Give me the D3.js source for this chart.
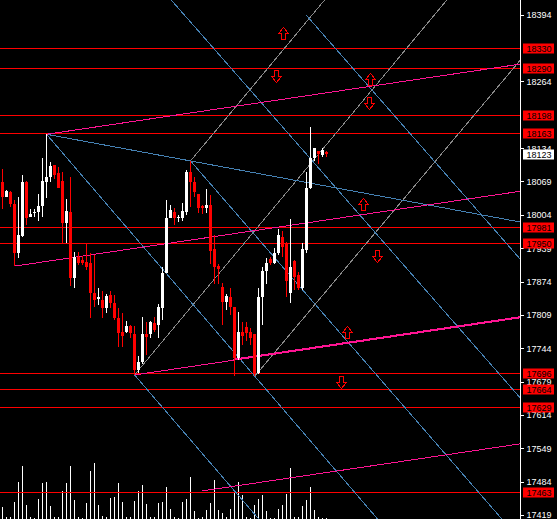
<!DOCTYPE html>
<html><head><meta charset="utf-8">
<script src="https://cdn.jsdelivr.net/npm/d3@7"></script>
<style>html,body{margin:0;padding:0;background:#000;overflow:hidden}</style>
</head><body>
<svg id="c" width="557" height="519"></svg>
<script>
// ---- data ----
const opens  = [18067,18039,18049,18026,17930,17963,18067,18000,18007,18010,18021,18067,18077,18101,18086,18069,17988,18010,17880,17922,17916,17913,17910,17851,17840,17838,17822,17848,17832,17802,17775,17775,17788,17772,17702,17717,17772,17772,17794,17789,17823,17890,17998,18009,17998,17998,18009,18088,18067,18045,18022,18018,18023,17937,17905,17863,17835,17843,17825,17724,17776,17786,17776,17771,17695,17843,17895,17918,17911,17929,17960,17950,17851,17914,17887,17861,17935,18056,18115,18128,18121,18127];
const highs  = [18093,18052,18050,18033,18039,18082,18070,18015,18015,18045,18114,18161,18106,18101,18097,18088,18034,18078,17932,17932,17924,17949,17929,17926,17861,17856,17849,17856,17848,17822,17812,17797,17789,17788,17728,17804,17796,17797,17804,17830,17903,18033,18023,18017,18004,18028,18091,18109,18078,18045,18023,18055,18043,17965,17908,17871,17850,17862,17825,17815,17796,17796,17783,17771,17862,17903,17919,17922,17939,17976,17973,17952,17995,17916,17893,17949,18088,18176,18135,18128,18134,18128];
const lows   = [18015,18038,18019,17904,17919,17961,17984,18000,18000,17992,18000,18036,18068,18073,18056,17950,17950,17865,17861,17906,17906,17897,17803,17825,17828,17803,17812,17822,17799,17747,17747,17773,17763,17692,17695,17713,17731,17763,17776,17763,17799,17890,17997,17984,17990,17991,18004,18020,18039,18008,18005,18007,17909,17869,17869,17789,17819,17809,17689,17721,17750,17758,17750,17689,17693,17789,17870,17906,17909,17926,17922,17843,17833,17858,17858,17858,17929,18054,18108,18104,18117,18116];
const closes = [18039,18051,18025,17930,17965,18068,17997,18005,18010,18021,18070,18078,18099,18082,18057,17989,18012,17881,17922,17911,17910,17903,17851,17838,17843,17822,17846,17832,17802,17773,17768,17788,17773,17702,17717,17772,17765,17796,17780,17825,17890,17998,18013,17998,18000,18011,18088,18067,18049,18018,18017,18023,17934,17903,17898,17835,17846,17825,17724,17776,17767,17773,17763,17693,17844,17895,17910,17910,17930,17965,17942,17875,17903,17883,17861,17937,18056,18115,18134,18122,18130,18123];
const volumes = [1170,200,200,1700,3700,5300,1370,200,100,2000,3600,3700,1300,200,200,2800,3600,5300,1900,200,100,1600,4800,5600,1400,300,200,2100,2200,3600,1700,200,200,1800,2800,3400,1500,200,200,1600,1700,3200,1000,200,100,1700,2000,4200,800,100,200,900,1600,3900,900,600,200,1000,2600,3700,2400,200,100,1400,2000,2400,800,100,100,1000,1400,2500,5100,200,200,1300,1900,3200,900,200,100,100];

// tick labels (18329 and 18199 sit fully under the level boxes, so they are not shown)
const priceTicks = [18394,18264,18134,18069,18004,17939,17874,17809,17744,17679,17614,17549,17484,17419];
const levelLines = [18330,18290,18198,18163,17981,17950,17696,17664,17629,17463];
const lastPrice = 18123;

// rays: [startBar, startPrice, slope (price per bar)]
const channelRays = [[11,18161,1.154],[3,17904,1.154],[33,17692,1.154],[50,17466,1.154]];
const channelRaysBold = [[57.6,17722,1.154]];
const fallingRays = [[11,18161,-1.444],[11,18161,-9.058],[40,18442,-8.887],[47,18109,-8.965],[33,17692,-9.04],[75.9,18393.4,-8.887]];
const risingRays  = [[33,17692,9.355],[47,18109,9.355],[63,17689,9.277]];
// arrows: [bar, price, direction]
const arrows = [[70,18358,"up"],[68.4,18274,"down"],[91.9,18269,"up"],[91.5,18222,"down"],[90,18025,"up"],[93.5,17924,"down"],[86,17776,"up"],[84.5,17679,"down"]];

// ---- drawing ----
const W = 557, H = 519, axisX = 520;
const svg = d3.select("#c");
svg.append("rect").attr("width",W).attr("height",H).attr("fill","#000");
const x = d3.scaleLinear().domain([0,1]).range([2.5,6.5]);
const y = d3.scaleLinear().domain([17419,18394]).range([515,14.7]);
const vy = d3.scaleLinear().domain([0,5600]).range([519,463]);

svg.append("defs").append("clipPath").attr("id","plot")
  .append("rect").attr("x",0).attr("y",0).attr("width",axisX).attr("height",H);
const g = svg.append("g").attr("clip-path","url(#plot)").attr("shape-rendering","crispEdges");

// volumes
const idx = d3.range(opens.length);
g.selectAll(".vol").data(idx).join("rect")
  .attr("x",i=>x(i)-0.5).attr("width",1)
  .attr("y",i=>Math.round(vy(volumes[i]))).attr("height",i=>H-Math.round(vy(volumes[i])))
  .attr("fill","#fff");

// level lines
g.selectAll(".lvl").data(levelLines).join("rect")
  .attr("x",0).attr("width",axisX).attr("y",d=>Math.round(y(d))).attr("height",1)
  .attr("fill","#ff0000");

// rays
const endBar = 140;
function drawRays(data, color, width){
  g.selectAll(null).data(data).join("line")
    .attr("x1",d=>x(d[0])).attr("y1",d=>y(d[1]))
    .attr("x2",x(endBar)).attr("y2",d=>y(d[1]+d[2]*(endBar-d[0])))
    .attr("stroke",color).attr("stroke-width",width);
}
drawRays(risingRays,"#8a8a8a",1);
drawRays(fallingRays,"#4682b4",1);
drawRays(channelRays,"#ff1493",1);
drawRays(channelRaysBold,"#ff1493",1.6);

// candles
const col = i => closes[i] >= opens[i] ? "#ffffff" : "#ff0000";
g.selectAll(".wick").data(idx).join("rect")
  .attr("x",i=>x(i)-0.5).attr("width",1)
  .attr("y",i=>Math.round(y(highs[i]))).attr("height",i=>Math.max(1,Math.round(y(lows[i]))-Math.round(y(highs[i]))))
  .attr("fill",col);
g.selectAll(".body").data(idx).join("rect")
  .attr("x",i=>x(i)-1.5).attr("width",3)
  .attr("y",i=>Math.round(y(Math.max(opens[i],closes[i]))))
  .attr("height",i=>Math.max(1,Math.round(y(Math.min(opens[i],closes[i])))-Math.round(y(Math.max(opens[i],closes[i])))))
  .attr("fill",col);

// arrows
function arrowPath(d){
  const cx = Math.round(x(d[0]))+0.5, cy = Math.round(y(d[1]))+0.5;
  const s = d[2]==="up" ? 1 : -1;
  const pts = [[0,-6],[5,0],[2,0],[2,6],[-2,6],[-2,0],[-5,0]].map(p=>[cx+p[0], cy+s*p[1]]);
  return "M"+pts.map(p=>p.join(",")).join("L")+"Z";
}
g.selectAll(".arr").data(arrows).join("path")
  .attr("d",arrowPath).attr("fill","none").attr("stroke","#ff0000").attr("stroke-width",1);

// axis
const ax = svg.append("g").attr("transform",`translate(${axisX+0.5},0)`)
  .call(d3.axisRight(y).tickValues(priceTicks).tickFormat(d3.format("d")).tickSize(3).tickSizeOuter(0).tickPadding(3));
ax.select(".domain").remove();
ax.selectAll("line").attr("stroke","#fff").attr("shape-rendering","crispEdges");
ax.selectAll("text").attr("fill","#fff").style("font-family","'Liberation Sans',Arial,sans-serif").style("font-size","9px");
svg.append("rect").attr("x",axisX).attr("width",1).attr("y",0).attr("height",H).attr("fill","#fff");

// level labels
const labels = svg.append("g");
function label(v, bg){
  const yy = Math.round(y(v)) + 0.5;
  labels.append("rect").attr("x",523).attr("y",yy-5).attr("width",31).attr("height",10).attr("fill",bg);
  labels.append("text").attr("x",526.5).attr("y",yy).attr("dy","0.35em").text(v)
    .attr("fill","#000").style("font-family","'Liberation Sans',Arial,sans-serif").style("font-size","9px");
}
levelLines.forEach(v=>label(v,"#ff0000"));
label(lastPrice,"#ffffff");
</script>
</body></html>
